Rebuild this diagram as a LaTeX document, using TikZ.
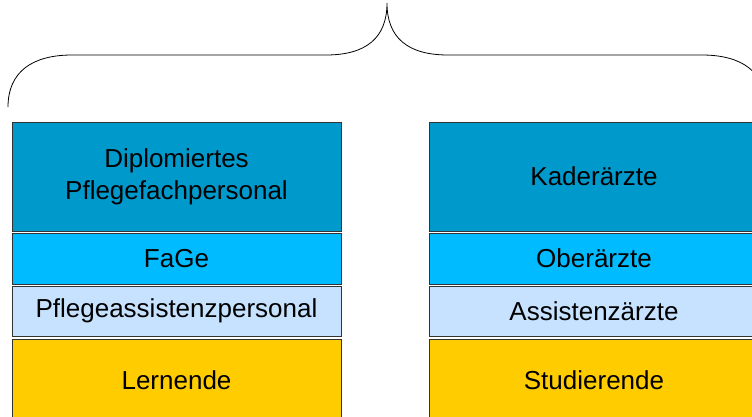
\documentclass[tikz,border=0pt]{standalone}
\usepackage{fontspec}
\setmainfont{Liberation Sans}
\definecolor{kaderblau}{RGB}{0,153,204}
\definecolor{mittelblau}{RGB}{0,187,255}
\definecolor{hellblau}{RGB}{198,226,255}
\definecolor{gelb}{RGB}{255,204,0}
\tikzset{
  stufe/.style={draw=black!80,line width=0.8pt,rectangle,minimum width=329pt,
    inner sep=0pt,align=center,font=\fontsize{26}{32}\selectfont}
}
\begin{document}
\begin{tikzpicture}[x=1pt,y=-1pt]
  \useasboundingbox (0,0) rectangle (752,416);
  \foreach \i/\yc/\h/\col/\links/\rechts in {
      1/176.5/109/kaderblau/{Diplomiertes\\Pflegefachpersonal}/{Kaderärzte},
      2/258.5/51/mittelblau/{FaGe}/{Oberärzte},
      3/311/50/hellblau/{Pflegeassistenzpersonal}/{Assistenzärzte},
      4/380/82/gelb/{Lernende}/{Studierende}} {
    \node[stufe,fill=\col,minimum height=\h pt] (l\i) at (176.5,\yc) {\links};
    \node[stufe,fill=\col,minimum height=\h pt] (r\i) at (594,\yc) {\rechts};
  }
  % geschweifte Klammer ueber beiden Spalten
  \coordinate (spitze) at (387,3);
  \draw[black,line width=0.8pt] (8,107) .. controls (8,72) and (32,55) .. (72,55)
    -- (326,55) .. controls (366,55) and (387,38) .. (spitze)
    .. controls (387,38) and (408,55) .. (448,55)
    -- (702,55) .. controls (742,55) and (766,72) .. (766,107);
\end{tikzpicture}
\end{document}
